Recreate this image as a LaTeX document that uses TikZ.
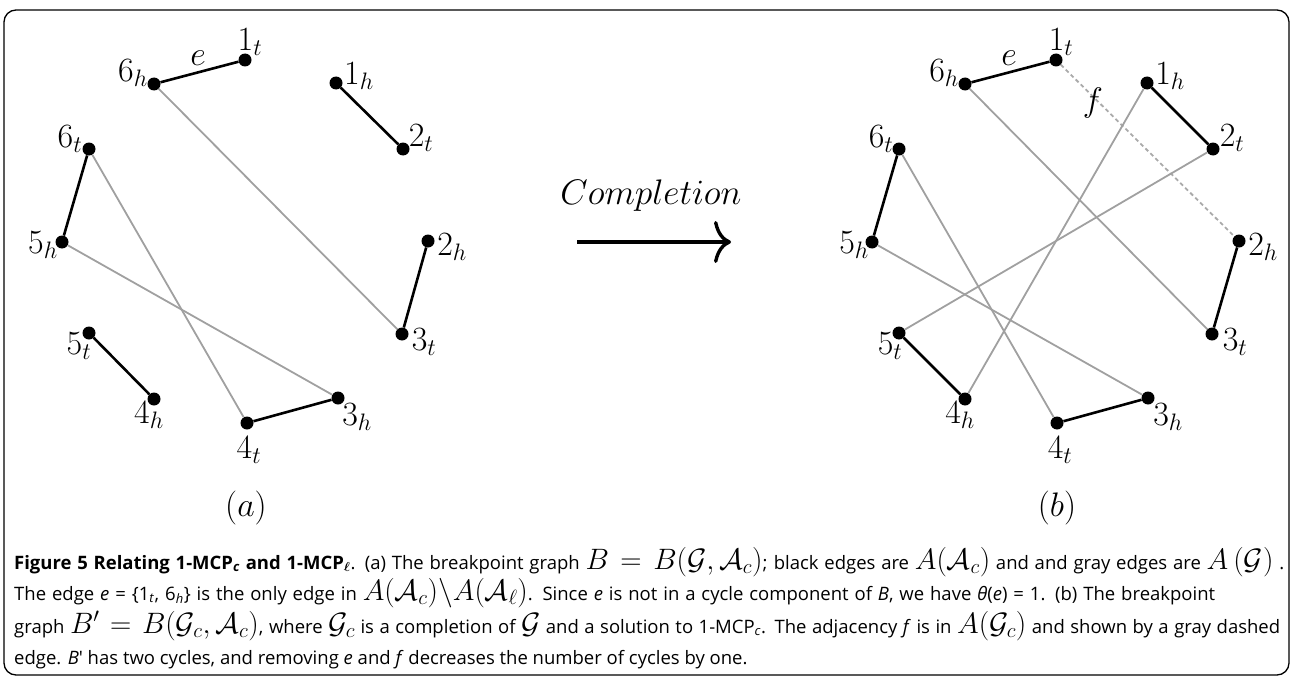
\RequirePackage{fix-cm}
\documentclass[tikz,border=0pt]{standalone}
\usepackage{amsmath}
\usepackage{fontspec}
\setmainfont{Open Sans}
\usetikzlibrary{arrows.meta}
\definecolor{edgegray}{RGB}{160,160,160}
\definecolor{dashgray}{RGB}{170,170,170}
\newcommand{\capmath}[1]{{\fontsize{29.5}{29.5}\selectfont$#1$}}
\newcommand{\stretchto}[2]{\makebox[#1pt][s]{#2}}
\begin{document}
\begin{tikzpicture}[x=1pt,y=-1pt,
  dot/.style={circle,fill=black,inner sep=0pt,minimum size=13pt},
  blk/.style={line width=2.6pt,black},
  gry/.style={line width=1.8pt,edgegray},
  dsh/.style={line width=1.8pt,dashgray,dash pattern=on 4pt off 3pt},
  lbl/.style={inner sep=0pt,font=\fontsize{34}{34}\selectfont},
  captext/.style={anchor=base west,inner sep=0pt,font=\fontsize{18.5}{20}\selectfont}]
\useasboundingbox (0,0) rectangle (1293,677);
\draw[line width=1.3pt,rounded corners=12pt] (4,10) rectangle (1289,675);

% ---------- left graph (a)
\node[dot] (a1t) at (245,60) {};
\node[dot] (a6h) at (154,84) {};
\node[dot] (a1h) at (336,83) {};
\node[dot] (a2t) at (403,149) {};
\node[dot] (a6t) at (89,149) {};
\node[dot] (a5h) at (62,242) {};
\node[dot] (a2h) at (428,241) {};
\node[dot] (a3t) at (402,334) {};
\node[dot] (a5t) at (89,333) {};
\node[dot] (a4h) at (154,399) {};
\node[dot] (a3h) at (338,398) {};
\node[dot] (a4t) at (247,423) {};

\draw[gry] (a6h) -- (a3t);
\draw[gry] (a6t) -- (a4t);
\draw[gry] (a5h) -- (a3h);
\draw[blk] (a6h) -- (a1t);
\draw[blk] (a1h) -- (a2t);
\draw[blk] (a2h) -- (a3t);
\draw[blk] (a3h) -- (a4t);
\draw[blk] (a4h) -- (a5t);
\draw[blk] (a5h) -- (a6t);

\node[lbl] (la1t) at (250,42) {$1_t$};
\node[lbl] (lae) at (198,58) {$e$};
\node[lbl] (la6h) at (133,73) {$6_h$};
\node[lbl] (la1h) at (359,76) {$1_h$};
\node[lbl] (la2t) at (421,138) {$2_t$};
\node[lbl] (la6t) at (70,139) {$6_t$};
\node[lbl] (la5h) at (43,245) {$5_h$};
\node[lbl] (la2h) at (452,247) {$2_h$};
\node[lbl] (la3t) at (424,342) {$3_t$};
\node[lbl] (la5t) at (79,346) {$5_t$};
\node[lbl] (la4h) at (149,415) {$4_h$};
\node[lbl] (la3h) at (357,417) {$3_h$};
\node[lbl] (la4t) at (249,450) {$4_t$};
\node[lbl] (capa) at (246,508) {$(a)$};

% ---------- arrow
\node[lbl,font=\fontsize{35.5}{36}\selectfont] (compl) at (651,196) {$Completion$};
\coordinate (arrS) at (577,242);
\coordinate (arrE) at (731,242);
\draw[line width=3.6pt,-{Computer Modern Rightarrow[length=17pt,width=42pt,line width=3.4pt]}] (arrS) -- (arrE);

% ---------- right graph (b)
\node[dot] (b1t) at (1056,60) {};
\node[dot] (b6h) at (965,84) {};
\node[dot] (b1h) at (1147,83) {};
\node[dot] (b2t) at (1213,149) {};
\node[dot] (b6t) at (899,149) {};
\node[dot] (b5h) at (872,242) {};
\node[dot] (b2h) at (1239,241) {};
\node[dot] (b3t) at (1212,334) {};
\node[dot] (b5t) at (899,333) {};
\node[dot] (b4h) at (965,399) {};
\node[dot] (b3h) at (1148,398) {};
\node[dot] (b4t) at (1057,423) {};

\draw[dsh] (b1t) -- (b2h);
\draw[gry] (b6h) -- (b3t);
\draw[gry] (b6t) -- (b4t);
\draw[gry] (b5h) -- (b3h);
\draw[gry] (b1h) -- (b4h);
\draw[gry] (b2t) -- (b5t);
\draw[blk] (b6h) -- (b1t);
\draw[blk] (b1h) -- (b2t);
\draw[blk] (b2h) -- (b3t);
\draw[blk] (b3h) -- (b4t);
\draw[blk] (b4h) -- (b5t);
\draw[blk] (b5h) -- (b6t);

\node[lbl] (lb1t) at (1061,42) {$1_t$};
\node[lbl] (lbe) at (1009,58) {$e$};
\node[lbl] (lbf) at (1093,103) {$f$};
\node[lbl] (lb6h) at (944,73) {$6_h$};
\node[lbl] (lb1h) at (1170,76) {$1_h$};
\node[lbl] (lb2t) at (1232,138) {$2_t$};
\node[lbl] (lb6t) at (881,139) {$6_t$};
\node[lbl] (lb5h) at (854,245) {$5_h$};
\node[lbl] (lb2h) at (1263,247) {$2_h$};
\node[lbl] (lb3t) at (1235,342) {$3_t$};
\node[lbl] (lb5t) at (890,346) {$5_t$};
\node[lbl] (lb4h) at (960,415) {$4_h$};
\node[lbl] (lb3h) at (1168,417) {$3_h$};
\node[lbl] (lb4t) at (1060,450) {$4_t$};
\node[lbl] (capb) at (1057,508) {$(b)$};

% ---------- caption
\node[captext] (c1) at (14,569) {\stretchto{1270}{\textbf{Figure 5 Relating 1-MCP\textsubscript{\textit{c}} and 1-MCP\textsubscript{$\boldsymbol{\ell}$}}. (a) The breakpoint graph \capmath{B = B(\mathcal{G}, \mathcal{A}_c)}; black edges are \capmath{A(\mathcal{A}_c)} and and gray edges are \capmath{A\,(\mathcal{G})} .}};
\node[captext] (c2) at (14,600) {\stretchto{1201}{The edge \textit{e} = \{1\textsubscript{\textit{t}}, 6\textsubscript{\textit{h}}\} is the only edge in \capmath{A(\mathcal{A}_c)\backslash A(\mathcal{A}_\ell)}. Since \textit{e} is not in a cycle component of \textit{B}, we have \textit{θ}(\textit{e}) = 1. (b) The breakpoint}};
\node[captext] (c3) at (14,633) {\stretchto{1266}{graph \capmath{B' = B(\mathcal{G}_c, \mathcal{A}_c)}, where \capmath{\mathcal{G}_c} is a completion of \capmath{\mathcal{G}} and a solution to 1-MCP\textsubscript{\textit{c}}. The adjacency \textit{f} is in \capmath{A(\mathcal{G}_c)} and shown by a gray dashed}};
\node[captext] (c4) at (14,664) {edge. \textit{B}′ has two cycles, and removing \textit{e} and \textit{f} decreases the number of cycles by one.};
\end{tikzpicture}
\end{document}
